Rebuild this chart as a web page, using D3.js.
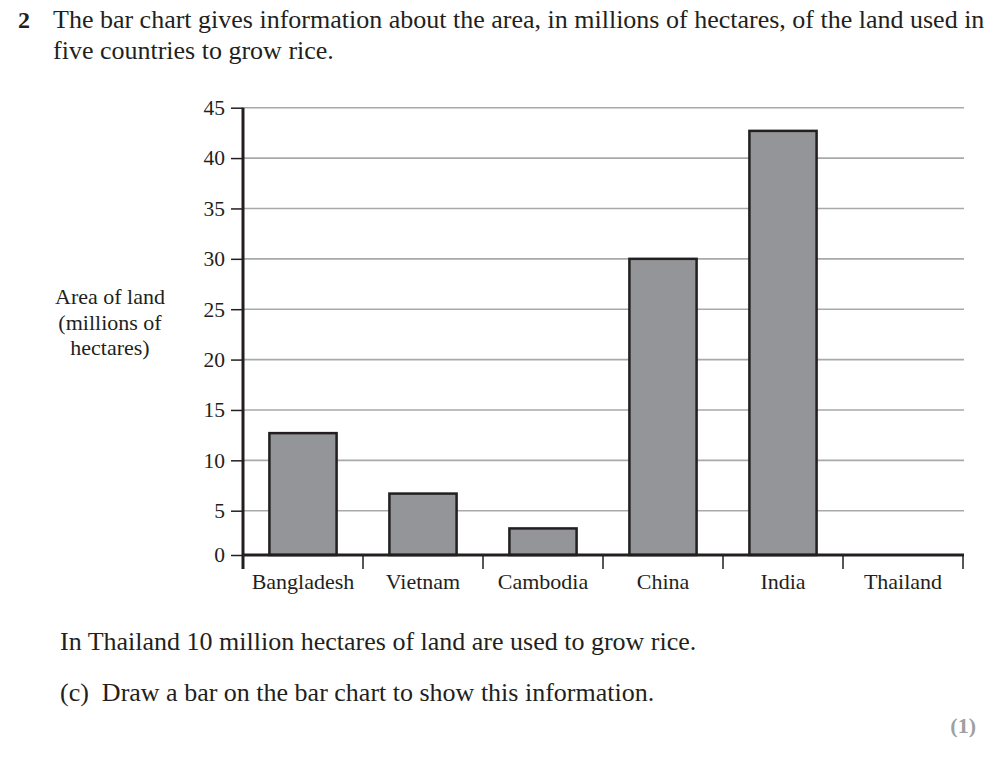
<!DOCTYPE html>
<html>
<head>
<meta charset="utf-8">
<script src="https://cdn.jsdelivr.net/npm/d3@7"></script>
<style>
  body { margin: 0; background: #fff; }
  svg { display: block; }
  svg text { font-family: "Liberation Serif", "Times New Roman", serif; }
</style>
</head>
<body>
<svg width="1000" height="757"></svg>
<script>
// Data (Thailand has no bar yet - that's the question)
const countries = ["Bangladesh", "Vietnam", "Cambodia", "China", "India", "Thailand"];
const areas = [12.7, 6.7, 3, 30, 42.7, null];
const yTicks = [0, 5, 10, 15, 20, 25, 30, 35, 40, 45];
const yLabelLines = ["Area of land", "(millions of", "hectares)"];

const svg = d3.select("svg");

// Scales
const x = d3.scaleBand()
    .domain(countries)
    .range([243, 963])
    .paddingInner(0.44)
    .paddingOuter(0.22);

// the printed chart squeezes the 0-5 step a little, so use a two-piece scale
const y = d3.scaleLinear()
    .domain([0, 5, 45])
    .range([555, 510.7, 107.7]);

// Question text
svg.append("text")
    .attr("x", 18).attr("y", 28)
    .attr("font-size", "24px").attr("font-weight", "bold")
    .attr("fill", "#231f20")
    .text("2");

svg.append("text")
    .attr("x", 53).attr("y", 28)
    .attr("font-size", "26px").attr("fill", "#231f20")
    .text("The bar chart gives information about the area, in millions of hectares, of the land used in");

svg.append("text")
    .attr("x", 53).attr("y", 59)
    .attr("font-size", "26px").attr("fill", "#231f20")
    .text("five countries to grow rice.");

// Gridlines
svg.append("g")
    .selectAll("line")
    .data(yTicks.filter(d => d > 0))
    .join("line")
    .attr("x1", x.range()[0]).attr("x2", x.range()[1] + 1)
    .attr("y1", d => y(d)).attr("y2", d => y(d))
    .attr("stroke", "#a7a9ac")
    .attr("stroke-width", 1.6);

// Bars
svg.append("g")
    .selectAll("rect")
    .data(countries.map((c, i) => ({ c, v: areas[i] })).filter(d => d.v != null))
    .join("rect")
    .attr("x", d => x(d.c))
    .attr("y", d => y(d.v))
    .attr("width", x.bandwidth())
    .attr("height", d => y(0) - y(d.v))
    .attr("fill", "#939598")
    .attr("stroke", "#231f20")
    .attr("stroke-width", 2.5);

// Y axis
const yAxis = svg.append("g")
    .attr("transform", `translate(${x.range()[0]},0)`)
    .call(d3.axisLeft(y).tickValues(yTicks).tickSize(12).tickPadding(6));
yAxis.attr("font-family", null);
yAxis.select(".domain").remove();
yAxis.selectAll(".tick line").attr("stroke", "#231f20").attr("stroke-width", 1.5);
yAxis.selectAll(".tick text")
    .style("font-family", "'Liberation Serif', serif")
    .style("font-size", "21.5px")
    .attr("fill", "#231f20");

svg.append("line")
    .attr("x1", x.range()[0]).attr("x2", x.range()[0])
    .attr("y1", y(45)).attr("y2", y(0) + 14)
    .attr("stroke", "#231f20").attr("stroke-width", 3);

// X axis: baseline, boundary ticks and category labels
svg.append("line")
    .attr("x1", x.range()[0]).attr("x2", x.range()[1] + 1)
    .attr("y1", y(0)).attr("y2", y(0))
    .attr("stroke", "#231f20").attr("stroke-width", 3);

const bounds = countries.map(c => x(c) - (x.step() - x.bandwidth()) / 2).concat([x.range()[1]]);
svg.append("g")
    .selectAll("line")
    .data(bounds.slice(1))
    .join("line")
    .attr("x1", d => d).attr("x2", d => d)
    .attr("y1", y(0)).attr("y2", y(0) + 14)
    .attr("stroke", "#231f20").attr("stroke-width", 1.5);

svg.append("g")
    .selectAll("text")
    .data(countries)
    .join("text")
    .attr("x", d => x(d) + x.bandwidth() / 2)
    .attr("y", 589)
    .attr("text-anchor", "middle")
    .attr("font-size", "22px")
    .attr("fill", "#231f20")
    .text(d => d);

// Y axis title
svg.append("text")
    .attr("x", 110).attr("y", 304)
    .attr("text-anchor", "middle")
    .attr("font-size", "22px")
    .attr("fill", "#231f20")
    .selectAll("tspan")
    .data(yLabelLines)
    .join("tspan")
    .attr("x", 110)
    .attr("dy", (d, i) => i === 0 ? 0 : 25.5)
    .text(d => d);

// Follow-up text
svg.append("text")
    .attr("x", 60).attr("y", 650)
    .attr("font-size", "26px").attr("fill", "#231f20")
    .text("In Thailand 10 million hectares of land are used to grow rice.");

svg.append("text")
    .attr("x", 60).attr("y", 701)
    .attr("font-size", "26px").attr("fill", "#231f20")
    .attr("xml:space", "preserve")
    .text("(c)  Draw a bar on the bar chart to show this information.");

svg.append("text")
    .attr("x", 976).attr("y", 733)
    .attr("text-anchor", "end")
    .attr("font-size", "22px").attr("font-weight", "bold")
    .attr("fill", "#a0a0a0")
    .text("(1)");
</script>
</body>
</html>
